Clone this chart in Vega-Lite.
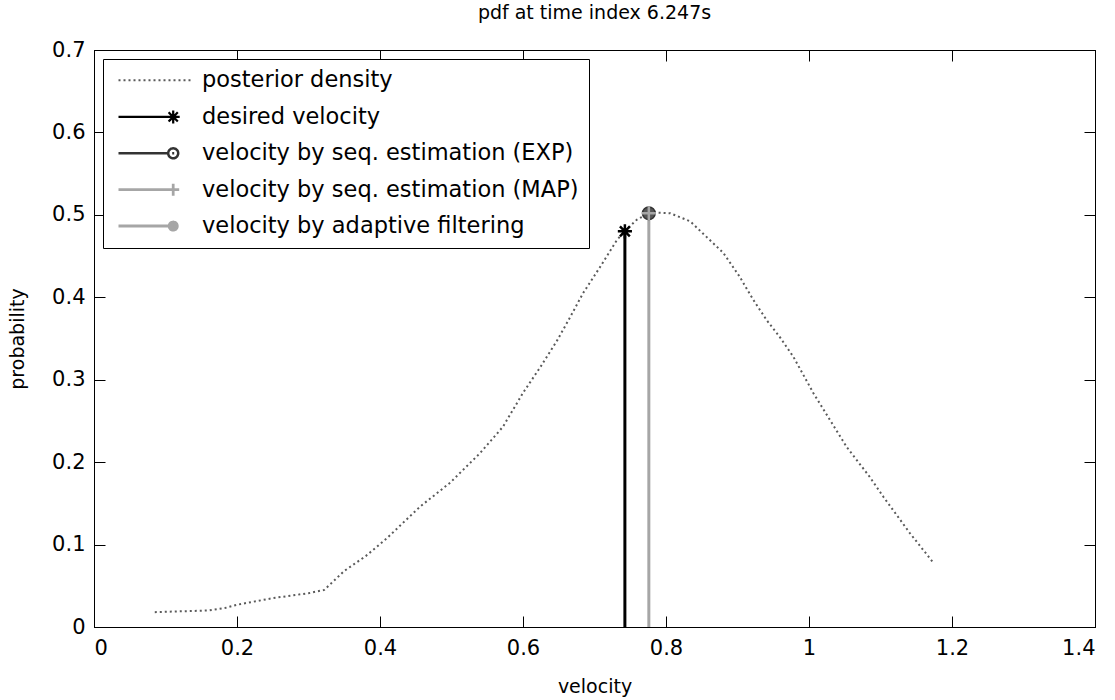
{
  "$schema": "https://vega.github.io/schema/vega-lite/v6.json",
  "width": 1001,
  "height": 577,
  "autosize": {"type": "none"},
  "padding": {"left": 94, "top": 50, "right": 20, "bottom": 73},
  "background": "white",
  "title": {"text": "pdf at time index 6.247s", "font": "DejaVu Sans", "fontSize": 19, "fontWeight": "normal", "color": "black", "offset": 16},
  "datasets": {
    "curve": [
      {"series": "posterior density", "v": 0.085, "p": 0.018},
      {"series": "posterior density", "v": 0.12, "p": 0.019},
      {"series": "posterior density", "v": 0.16, "p": 0.02},
      {"series": "posterior density", "v": 0.183, "p": 0.023},
      {"series": "posterior density", "v": 0.2, "p": 0.027},
      {"series": "posterior density", "v": 0.25, "p": 0.035},
      {"series": "posterior density", "v": 0.3, "p": 0.041},
      {"series": "posterior density", "v": 0.322, "p": 0.045},
      {"series": "posterior density", "v": 0.35, "p": 0.068},
      {"series": "posterior density", "v": 0.38, "p": 0.086},
      {"series": "posterior density", "v": 0.41, "p": 0.108},
      {"series": "posterior density", "v": 0.456, "p": 0.146},
      {"series": "posterior density", "v": 0.498, "p": 0.175},
      {"series": "posterior density", "v": 0.54, "p": 0.211},
      {"series": "posterior density", "v": 0.572, "p": 0.243},
      {"series": "posterior density", "v": 0.6, "p": 0.284},
      {"series": "posterior density", "v": 0.624, "p": 0.315},
      {"series": "posterior density", "v": 0.648, "p": 0.348},
      {"series": "posterior density", "v": 0.666, "p": 0.376},
      {"series": "posterior density", "v": 0.684, "p": 0.405},
      {"series": "posterior density", "v": 0.708, "p": 0.437},
      {"series": "posterior density", "v": 0.731, "p": 0.469},
      {"series": "posterior density", "v": 0.742, "p": 0.48},
      {"series": "posterior density", "v": 0.759, "p": 0.494},
      {"series": "posterior density", "v": 0.778, "p": 0.503},
      {"series": "posterior density", "v": 0.806, "p": 0.502},
      {"series": "posterior density", "v": 0.834, "p": 0.492},
      {"series": "posterior density", "v": 0.857, "p": 0.473},
      {"series": "posterior density", "v": 0.88, "p": 0.454},
      {"series": "posterior density", "v": 0.903, "p": 0.425},
      {"series": "posterior density", "v": 0.922, "p": 0.397},
      {"series": "posterior density", "v": 0.941, "p": 0.372},
      {"series": "posterior density", "v": 0.959, "p": 0.352},
      {"series": "posterior density", "v": 0.978, "p": 0.328},
      {"series": "posterior density", "v": 1.006, "p": 0.284},
      {"series": "posterior density", "v": 1.053, "p": 0.218},
      {"series": "posterior density", "v": 1.085, "p": 0.182},
      {"series": "posterior density", "v": 1.104, "p": 0.158},
      {"series": "posterior density", "v": 1.141, "p": 0.114},
      {"series": "posterior density", "v": 1.173, "p": 0.079}
    ],
    "stems": [
      {"series": "desired velocity", "v": 0.7425, "p": 0.48},
      {"series": "velocity by seq. estimation (EXP)", "v": 0.776, "p": 0.502},
      {"series": "velocity by seq. estimation (MAP)", "v": 0.776, "p": 0.502},
      {"series": "velocity by adaptive filtering", "v": 0.776, "p": 0.502}
    ],
    "series": [
      {"series": "posterior density", "v": 0.778, "p": 0.503},
      {"series": "desired velocity", "v": 0.7425, "p": 0.48},
      {"series": "velocity by seq. estimation (EXP)", "v": 0.776, "p": 0.502},
      {"series": "velocity by seq. estimation (MAP)", "v": 0.776, "p": 0.502},
      {"series": "velocity by adaptive filtering", "v": 0.776, "p": 0.502}
    ]
  },
  "resolve": {"axis": {"x": "independent", "y": "independent"}},
  "layer": [
    {
      "data": {"name": "curve"},
      "mark": {"type": "line", "strokeDash": [2, 3], "strokeWidth": 2, "color": "#5a5a5a", "opacity": 1},
      "encoding": {
        "x": {"field": "v", "type": "quantitative", "title": "velocity",
          "scale": {"domain": [0, 1.4], "nice": false, "zero": false},
          "axis": {"orient": "bottom", "values": [0, 0.2, 0.4, 0.6, 0.8, 1, 1.2, 1.4], "labelExpr": "format(datum.value, '~g')", "tickSize": -11, "labelPadding": 21, "titlePadding": 19}},
        "y": {"field": "p", "type": "quantitative", "title": "probability",
          "scale": {"domain": [0, 0.7], "nice": false, "zero": false},
          "axis": {"orient": "left", "values": [0, 0.1, 0.2, 0.3, 0.4, 0.5, 0.6, 0.7], "labelExpr": "format(datum.value, '~g')", "tickSize": -11, "labelPadding": 20, "titlePadding": 24}}
      }
    },
    {
      "data": {"name": "stems"},
      "transform": [{"filter": "datum.series === 'desired velocity'"}],
      "mark": {"type": "rule", "color": "#000000", "strokeWidth": 3},
      "encoding": {
        "x": {"field": "v", "type": "quantitative", "axis": {"orient": "top", "values": [0, 0.2, 0.4, 0.6, 0.8, 1, 1.2, 1.4], "labels": false, "tickSize": -11, "title": null}},
        "y": {"field": "p", "type": "quantitative", "axis": {"orient": "right", "values": [0, 0.1, 0.2, 0.3, 0.4, 0.5, 0.6, 0.7], "labels": false, "tickSize": -11, "title": null}},
        "y2": {"datum": 0}
      }
    },
    {
      "data": {"name": "stems"},
      "transform": [{"filter": "datum.series === 'velocity by seq. estimation (EXP)'"}],
      "mark": {"type": "rule", "color": "#333333", "strokeWidth": 1.2},
      "encoding": {
        "x": {"field": "v", "type": "quantitative", "axis": null},
        "y": {"field": "p", "type": "quantitative", "axis": null},
        "y2": {"datum": 0}
      }
    },
    {
      "data": {"name": "stems"},
      "transform": [{"filter": "datum.series === 'velocity by seq. estimation (MAP)'"}],
      "mark": {"type": "rule", "color": "#a6a6a6", "strokeWidth": 3},
      "encoding": {
        "x": {"field": "v", "type": "quantitative", "axis": null},
        "y": {"field": "p", "type": "quantitative", "axis": null},
        "y2": {"datum": 0}
      }
    },
    {
      "data": {"name": "stems"},
      "transform": [{"filter": "datum.series === 'desired velocity'"}],
      "mark": {"type": "point", "shape": "M-1,0H1M0,-1V1M-0.7,-0.7L0.7,0.7M-0.7,0.7L0.7,-0.7", "size": 200, "filled": false, "color": "#000000", "strokeWidth": 2.5, "opacity": 1},
      "encoding": {
        "x": {"field": "v", "type": "quantitative", "axis": null},
        "y": {"field": "p", "type": "quantitative", "axis": null}
      }
    },
    {
      "data": {"name": "stems"},
      "transform": [{"filter": "datum.series === 'velocity by seq. estimation (EXP)'"}],
      "mark": {"type": "point", "shape": "circle", "size": 160, "filled": true, "color": "#555555", "stroke": "#333333", "strokeWidth": 1.5, "opacity": 1},
      "encoding": {
        "x": {"field": "v", "type": "quantitative", "axis": null},
        "y": {"field": "p", "type": "quantitative", "axis": null}
      }
    },
    {
      "data": {"name": "stems"},
      "transform": [{"filter": "datum.series === 'velocity by seq. estimation (MAP)'"}],
      "mark": {"type": "point", "shape": "M-1,0H1M0,-1V1", "size": 200, "filled": false, "color": "#a6a6a6", "strokeWidth": 2.5, "opacity": 1},
      "encoding": {
        "x": {"field": "v", "type": "quantitative", "axis": null},
        "y": {"field": "p", "type": "quantitative", "axis": null}
      }
    },
    {
      "data": {"name": "series"},
      "mark": {"type": "point", "opacity": 0, "filled": false},
      "encoding": {
        "x": {"field": "v", "type": "quantitative", "axis": null},
        "y": {"field": "p", "type": "quantitative", "axis": null},
        "color": {"field": "series", "type": "nominal",
          "scale": {"domain": ["posterior density", "desired velocity", "velocity by seq. estimation (EXP)", "velocity by seq. estimation (MAP)", "velocity by adaptive filtering"],
                    "range": ["#5a5a5a", "#000000", "#333333", "#a6a6a6", "#a6a6a6"]},
          "legend": {
            "title": null,
            "orient": "top-left",
            "offset": 9,
            "padding": 10,
            "strokeColor": "black",
            "fillColor": "white",
            "symbolSize": 400,
            "symbolOpacity": 1,
            "labelOffset": 66,
            "rowPadding": 13.4,
            "labelFont": "DejaVu Sans",
            "labelFontSize": 22.5,
            "labelColor": "black",
            "labelLimit": 600
          }},
        "fill": {"field": "series", "type": "nominal",
          "scale": {"domain": ["posterior density", "desired velocity", "velocity by seq. estimation (EXP)", "velocity by seq. estimation (MAP)", "velocity by adaptive filtering"],
                    "range": ["transparent", "transparent", "transparent", "transparent", "#a6a6a6"]},
          "legend": {"title": null}},
        "shape": {"field": "series", "type": "nominal",
          "scale": {"domain": ["posterior density", "desired velocity", "velocity by seq. estimation (EXP)", "velocity by seq. estimation (MAP)", "velocity by adaptive filtering"],
                    "range": [
                      "M-0.6,0H6.7",
                      "M-0.6,0H4.87M4.22,0H5.52M4.87,-0.65V0.65M4.41,-0.46L5.33,0.46M4.41,0.46L5.33,-0.46",
                      "M-0.6,0H4.37M5.37,0A0.5,0.5 0 1,1 4.37,0A0.5,0.5 0 1,1 5.37,0M4.77,0H4.97",
                      "M-0.6,0H4.87M4.27,0H5.47M4.87,-0.6V0.6",
                      "M-0.6,0H4.87M5.27,0A0.4,0.4 0 1,1 4.47,0A0.4,0.4 0 1,1 5.27,0Z"
                    ]},
          "legend": {"title": null}},
        "strokeWidth": {"field": "series", "type": "nominal",
          "scale": {"domain": ["posterior density", "desired velocity", "velocity by seq. estimation (EXP)", "velocity by seq. estimation (MAP)", "velocity by adaptive filtering"],
                    "range": [2, 3, 1.2, 2.5, 1.2]},
          "legend": {"title": null}},
        "strokeDash": {"field": "series", "type": "nominal",
          "scale": {"domain": ["posterior density", "desired velocity", "velocity by seq. estimation (EXP)", "velocity by seq. estimation (MAP)", "velocity by adaptive filtering"],
                    "range": [[2, 3], [1, 0], [1, 0], [1, 0], [1, 0]]},
          "legend": {"title": null}}
      }
    }
  ],
  "config": {
    "view": {"stroke": "black", "strokeWidth": 1},
    "axis": {
      "grid": false,
      "domainColor": "black",
      "tickColor": "black",
      "labelColor": "black",
      "labelFont": "DejaVu Sans",
      "labelFontSize": 21,
      "titleFont": "DejaVu Sans",
      "titleFontSize": 19,
      "titleFontWeight": "normal",
      "titleColor": "black"
    }
  }
}
